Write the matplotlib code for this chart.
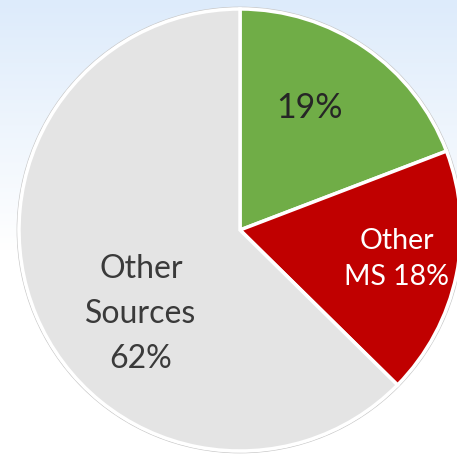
import numpy as np
import matplotlib.pyplot as plt

labels = ["19%", "Other\nMS 18%", "Other\nSources\n62%"]
shares = [19, 18, 62]
colors = ["#70ad47", "#c00000", "#e4e4e4"]
text_colors = ["#262626", "white", "#3a3a3a"]

W, H = 457, 455
fig = plt.figure(figsize=(W / 100, H / 100), dpi=100)
ax = fig.add_axes([0, 0, 1, 1])

# background: pale blue at top fading to white
grad = np.ones((H, 1, 3))
t = np.clip(1 - np.arange(H) / 250.0, 0, 1)[:, None]
top = np.array([221, 235, 251]) / 255
grad[:, 0, :] = 1 - t * (1 - top)
ax.imshow(grad, extent=[0, W, 0, H], aspect="auto", zorder=0, origin="upper")

cx, cy, r = 240, H - 230, 221
wedges, _ = ax.pie(shares, colors=colors, startangle=90, counterclock=False,
                   center=(cx, cy), radius=r, frame=True,
                   wedgeprops=dict(edgecolor="white", linewidth=2.5))
for w in wedges:
    w.set_zorder(2)
ring = plt.Circle((cx, cy), r + 1.8, fill=False, edgecolor="#c8c8c8", lw=0.8, zorder=1)
ax.add_patch(ring)
ax.set_xlim(0, W)
ax.set_ylim(0, H)
ax.axis("off")

pos = [(309, 108, 24.5, 1.2), (397, 259, 20.5, 1.48), (141, 314, 23, 1.64)]
for lab, (x, y, fs, ls), c in zip(labels, pos, text_colors):
    ax.text(x, H - y, lab, ha="center", va="center", fontsize=fs, color=c,
            family="Lato", linespacing=ls, zorder=3)

fig.savefig("out.png", dpi=100)
